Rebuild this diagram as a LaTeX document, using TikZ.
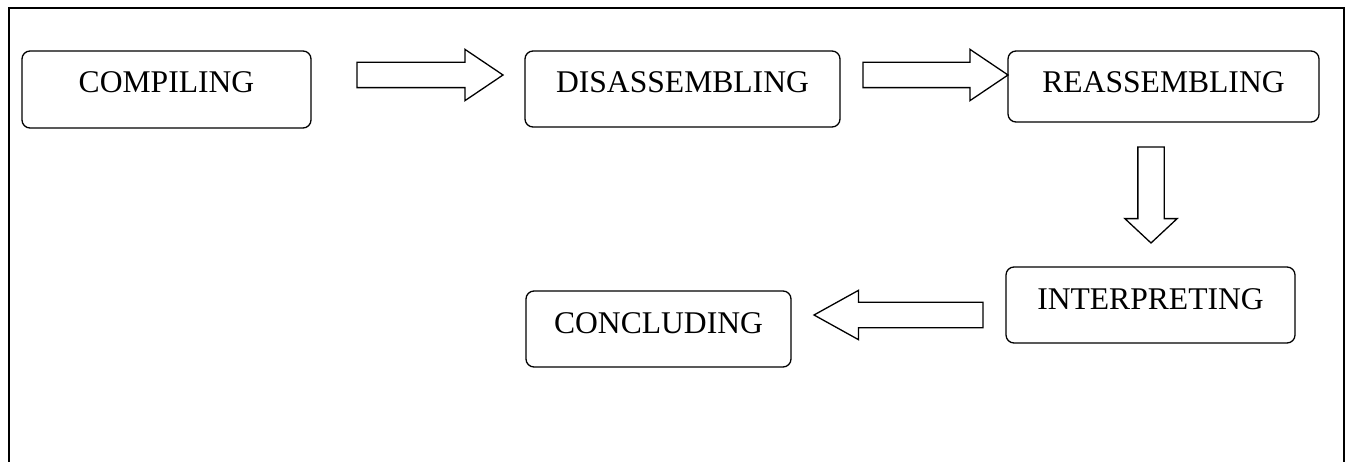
\documentclass[tikz,border=0pt]{standalone}
\usepackage{fontspec}
\setmainfont{Liberation Serif}
\usetikzlibrary{positioning,shapes.arrows}

\begin{document}
\begin{tikzpicture}[stage/.style={shape=rectangle,draw,rounded corners=8pt,line width=1.3pt,inner sep=0pt,outer sep=0pt,minimum height=0pt,text height=42pt,font=\fontsize{31.6}{38}\selectfont},
	blockarrow/.style={draw,single arrow,line width=1.3pt,inner xsep=0pt,inner ysep=12pt,outer sep=0pt,single arrow head extend=13pt,single arrow tip angle=68},
	frame/.style={draw,line width=2pt},]
		\useasboundingbox (0pt,0pt) rectangle (1349pt,-462pt);
		\draw[frame] (9pt,-462pt) |- (1344pt,-8pt) -- (1344pt,-462pt);
		
		% create the nodes
		\node (comp) [stage, anchor=north west, minimum width=289pt, text depth=35pt] at (22pt,-51pt) {COMPILING};
		\node (disasm) [stage, anchor=north west, minimum width=315pt, text depth=34pt] at ([xshift=214pt]comp.north east) {DISASSEMBLING};
		\node (reasm) [stage, anchor=north west, minimum width=311pt, text depth=29pt] at ([xshift=168pt]disasm.north east) {REASSEMBLING};
		\node (interp) [stage, anchor=north west, minimum width=289pt, text depth=34pt] at ([shift={(-2pt,-145pt)}]reasm.south west) {INTERPRETING};
		\node (concl) [stage, anchor=north west, minimum width=265pt, text depth=34pt] at ([shift={(1pt,-164pt)}]disasm.south west) {CONCLUDING};
		
		% connect the nodes
		\node (a1) [blockarrow, anchor=tail, minimum height=146pt] at ([shift={(46pt,-24pt)}]comp.north east) {};
		\node (a2) [blockarrow, anchor=tip, minimum height=145pt] at ([yshift=-24pt]reasm.north west) {};
		\node (a3) [blockarrow, rotate=-90, anchor=tail, minimum height=96pt, inner ysep=12.5pt, single arrow tip angle=94] at ([shift={(143pt,-25pt)}]reasm.south west) {};
		\node (a4) [blockarrow, shape border rotate=180, anchor=tip, minimum height=169pt, single arrow head extend=12pt, single arrow tip angle=58] at ([shift={(23pt,-24pt)}]concl.north east) {};
		
	\end{tikzpicture}
\end{document}
